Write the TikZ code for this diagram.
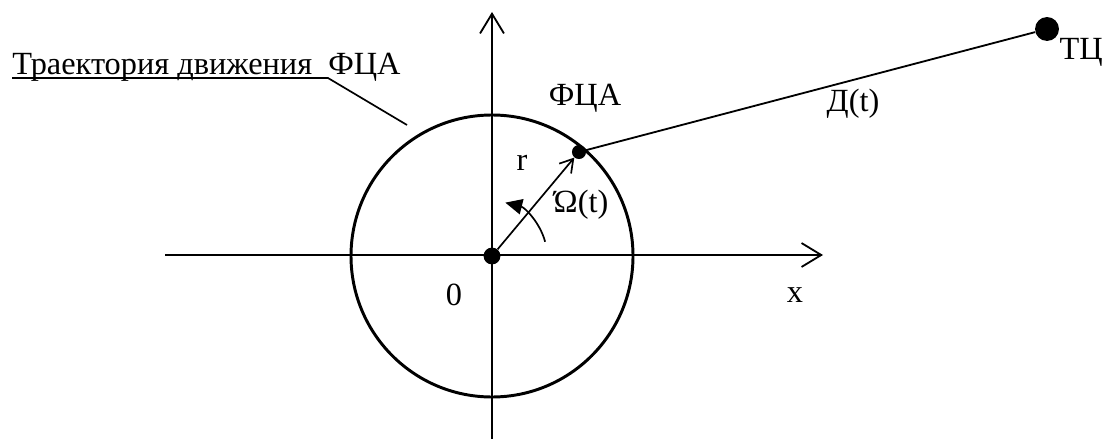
\documentclass[tikz,border=0pt]{standalone}
\usepackage{fontspec}
\setmainfont{Liberation Serif}
\usetikzlibrary{arrows.meta}

\tikzset{
  axis/.style={line width=1.3pt,-{Straight Barb[length=14pt,width=17pt,line width=1.3pt]}},
  dot/.style={circle,fill,inner sep=0pt,minimum size=#1},
  lbl/.style={font=\fontsize{23}{27}\selectfont,inner sep=0pt}
}

\begin{document}
\begin{tikzpicture}[x=0.025cm,y=-0.025cm]
\useasboundingbox (0,0) rectangle (1104,439);

% axes
\coordinate (ybot) at (492,439);
\coordinate (ytop) at (492,12);
\coordinate (xl) at (165,255);
\coordinate (xr) at (823,255);
\draw[axis] (ybot) -- (ytop);
\draw[axis] (xl) -- (xr);

% trajectory
\coordinate (o) at (492,256);
\draw[line width=2.1pt] (o) circle[radius=141];

% points
\node[dot=12pt] (O) at (o) {};
\node[dot=10pt] (fca) at (579,152) {};
\node[dot=17pt] (tc) at (1047,29) {};

\draw[line width=1.2pt,-{Straight Barb[length=9pt,width=11pt,line width=1.2pt]}] (O) -- (fca);
\draw[line width=1.3pt] (fca) -- (tc);

% angle
\draw[line width=1.2pt,-{Triangle[length=12pt,width=11pt]}] (o) ++(-15:55) arc[start angle=-15,end angle=-76,radius=55];

% labels
\node[lbl] (rlbl) at (522,163) {r};
\node[lbl] (omlbl) at (581,205) {Ώ(t)};
\node[lbl] (fcalbl) at (585,98) {ФЦА};
\node[lbl] (dlbl) at (853,104) {Д(t)};
\node[lbl,anchor=east] (tclbl) at (1103,52) {ТЦ};
\node[lbl] (zlbl) at (454,295) {0};
\node[lbl] (xlbl) at (795,295) {x};

% trajectory caption
\node[lbl,anchor=base west] (title) at (12,75) {Траектория движения~~ФЦА};
\coordinate (ul) at (12,78);
\coordinate (ulend) at (328,78);
\coordinate (lead) at (407,125);
\draw[line width=1.2pt] (ul) -- (ulend) -- (lead);
\end{tikzpicture}
\end{document}
